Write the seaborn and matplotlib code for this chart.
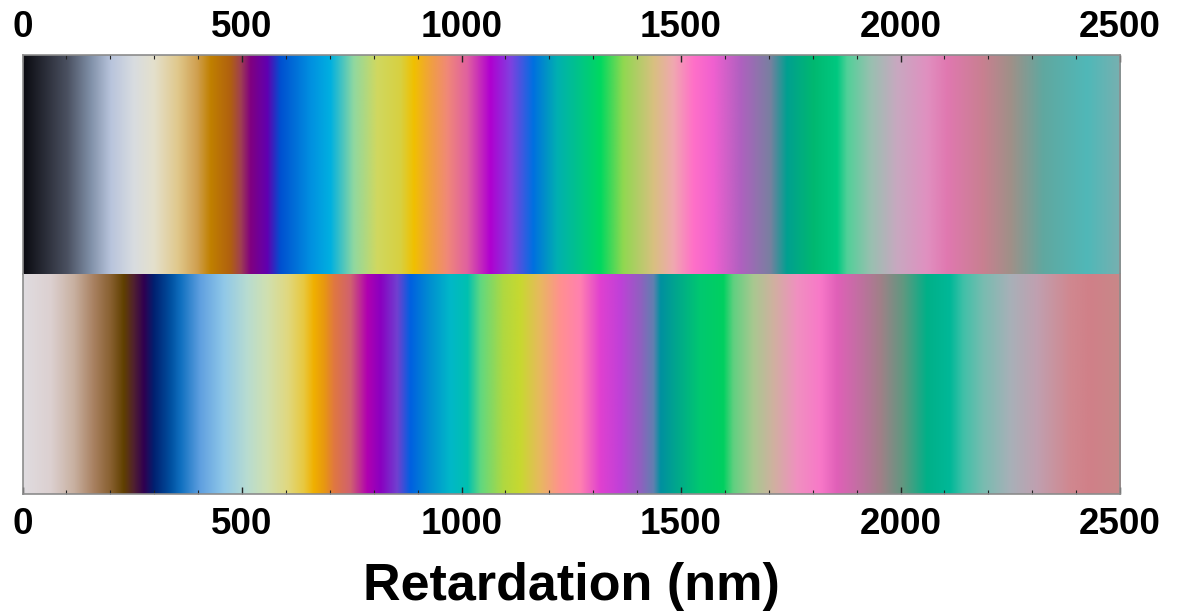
import numpy as np
import matplotlib
matplotlib.use("Agg")
import matplotlib.pyplot as plt
from matplotlib.colors import to_rgb
from matplotlib.ticker import MultipleLocator
import seaborn as sns

# ---- data: colour stops (retardation in nm -> colour) ----
crossed_nm = [0, 100, 154, 200, 252, 298, 352, 396, 427, 472, 495, 518, 556, 586,
              655, 700, 753, 806, 860, 890, 928, 966, 1012, 1064, 1110, 1162, 1217,
              1315, 1367, 1436, 1481, 1527, 1572, 1634, 1702, 1740, 1800, 1854, 1877,
              1930, 1991, 2059, 2105, 2187, 2249, 2324, 2424, 2500]
crossed_col = ["#0a0a10", "#4a5060", "#8090a8", "#b8c4dc", "#d8dce0", "#e4e0cc",
               "#e0c88c", "#d0a050", "#c08000", "#b06010", "#a04050", "#800080",
               "#6000b0", "#0050d0", "#0090e0", "#00b0e0", "#90d8a0", "#d0d860",
               "#d8d040", "#f0c000", "#f0a040", "#f08878", "#e060a0", "#b000d0",
               "#8040e0", "#0070e0", "#00b0b0", "#00d860", "#90d850", "#d8c080",
               "#f0a8b0", "#ff70c8", "#f060d0", "#b060c0", "#7880a0", "#00a090",
               "#00b870", "#00c880", "#50d098", "#98c0b0", "#c8a8c0", "#e090c0",
               "#e078b0", "#c88090", "#a09088", "#60a8a0", "#50b8b8", "#78b0b0"]

parallel_nm = [0, 63, 116, 161, 199, 229, 252, 275, 298, 336, 359, 404, 457, 511,
               556, 602, 639, 662, 685, 708, 746, 784, 814, 852, 882, 928, 973, 1012,
               1042, 1094, 1133, 1178, 1224, 1269, 1315, 1360, 1406, 1436, 1452, 1542,
               1595, 1618, 1663, 1710, 1763, 1816, 1854, 1907, 1953, 2005, 2059, 2111,
               2142, 2187, 2249, 2309, 2384, 2430, 2500]
parallel_col = ["#e0dce0", "#dcd0d0", "#c8b0a0", "#a88060", "#886030", "#604000",
                "#502030", "#300050", "#002070", "#0050a0", "#1070c0", "#60a0e0",
                "#90c8e8", "#b8dcd0", "#d0e0b0", "#e0d880", "#e8c840", "#f0b000",
                "#e89810", "#e07840", "#d06070", "#b000b0", "#8a00c0", "#7040d0",
                "#0060e0", "#0090d0", "#00b8c8", "#00c0b0", "#60d880", "#b0d840",
                "#c8d830", "#e8b860", "#ff9090", "#ff80b0", "#e040d0", "#c040d8",
                "#9060c0", "#6080b0", "#0090a0", "#00c870", "#00d060", "#60d080",
                "#a8c890", "#d0b0a0", "#f090c0", "#f878c8", "#e060b8", "#c070a0",
                "#a08088", "#609880", "#00b088", "#00b898", "#40c0a8", "#78bcb0",
                "#a8b0b8", "#c0a0b0", "#d08890", "#d08088", "#c88888"]

tick_values = [0, 500, 1000, 1500, 2000, 2500]
x_label = "Retardation (nm)"
x_max = 2500

sns.set_theme(style="ticks")
plt.rcParams["font.family"] = ["Liberation Sans", "DejaVu Sans"]
plt.rcParams["font.weight"] = "bold"
plt.rcParams["text.color"] = "black"
plt.rcParams["xtick.color"] = "black"
plt.rcParams["xtick.labelcolor"] = "black"
plt.rcParams["axes.labelcolor"] = "black"
plt.rcParams["axes.labelweight"] = "bold"


def strip(nm, cols, n=2000):
    grid = np.linspace(0, x_max, n)
    rgb = np.array([to_rgb(c) for c in cols])
    img = np.stack([np.interp(grid, nm, rgb[:, k]) for k in range(3)], axis=-1)
    return img[np.newaxis, :, :]


fig = plt.figure(figsize=(11.77, 6.16), dpi=100)
L = 22.5 / 1177
W = (1120 - 22.5) / 1177
y_top, y_mid, y_bot = 55 / 616, 274 / 616, 494 / 616
ax_top = fig.add_axes([L, 1 - y_mid, W, y_mid - y_top])
ax_bot = fig.add_axes([L, 1 - y_bot, W, y_bot - y_mid])

for ax, nm, cols in [(ax_top, crossed_nm, crossed_col), (ax_bot, parallel_nm, parallel_col)]:
    ax.imshow(strip(nm, cols), extent=[0, x_max, 0, 1], aspect="auto",
              interpolation="bilinear")
    ax.set_xlim(0, x_max)
    ax.set_ylim(0, 1)
    ax.set_yticks([])
    ax.set_xticks(tick_values)
    ax.xaxis.set_minor_locator(MultipleLocator(100))
    for s in ax.spines.values():
        s.set_color("#8c8c8c")
        s.set_linewidth(1.2)
    ax.tick_params(axis="x", which="major", direction="in", length=5, width=1,
                   color="#222222", labelsize=26.5, pad=9)
    ax.tick_params(axis="x", which="minor", direction="in", length=3, width=0.8,
                   color="#222222")

ax_top.xaxis.tick_top()
ax_top.tick_params(axis="x", which="both", top=True, bottom=False,
                   labeltop=True, labelbottom=False)
ax_top.tick_params(axis="x", which="major", pad=7)
ax_top.spines["bottom"].set_visible(False)
ax_bot.tick_params(axis="x", which="both", top=False, bottom=True)
ax_bot.spines["top"].set_visible(False)
ax_bot.set_xlabel(x_label, fontsize=37.5, fontweight="bold", labelpad=15)

fig.savefig("out.png", dpi=100)
